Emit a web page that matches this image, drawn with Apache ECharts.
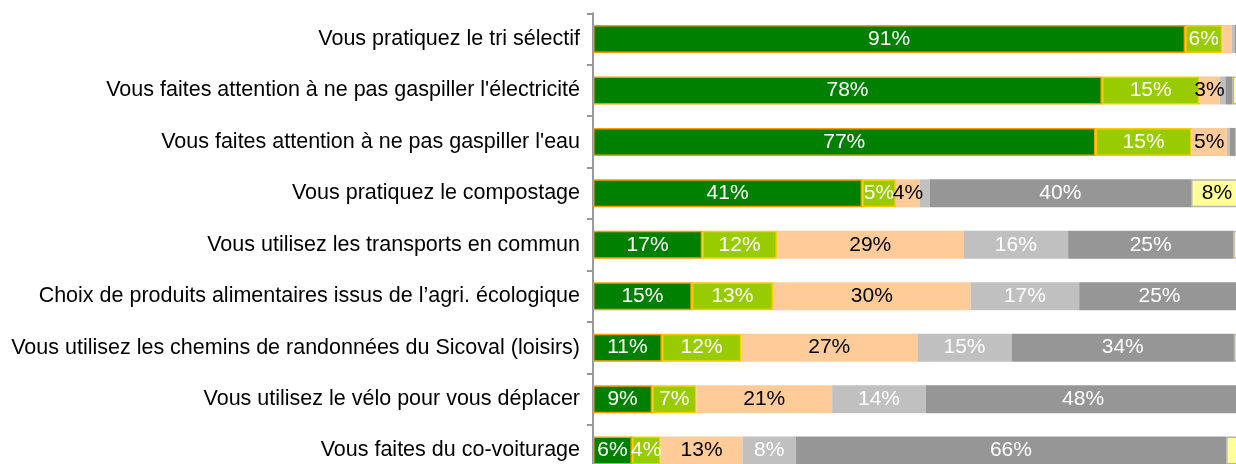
<!DOCTYPE html>
<html>
<head>
<meta charset="utf-8">
<script src="https://cdn.jsdelivr.net/npm/echarts@6/dist/echarts.min.js"></script>
<style>
  html, body { margin: 0; padding: 0; background: #fff; }
  #chart { width: 1236px; height: 464px; }
</style>
</head>
<body>
<div id="chart"></div>
<script>
// Catégories (de haut en bas)
var categories = [
    "Vous pratiquez le tri sélectif",
    "Vous faites attention à ne pas gaspiller l'électricité",
    "Vous faites attention à ne pas gaspiller l'eau",
    "Vous pratiquez le compostage",
    "Vous utilisez les transports en commun",
    "Choix de produits alimentaires issus de l’agri. écologique",
    "Vous utilisez les chemins de randonnées du Sicoval (loisirs)",
    "Vous utilisez le vélo pour vous déplacer",
    "Vous faites du co-voiturage"
];

// Valeurs en %
var systematiquement = [91.1, 78.3, 77.3, 41.4, 16.8, 15.2, 10.6, 9.1, 6.0];
var souvent          = [5.7, 15.0, 14.8, 5.2, 11.5, 12.5, 12.2, 6.8, 4.4];
var parfois          = [1.5, 3.1, 5.4, 3.7, 28.7, 30.4, 27.1, 20.9, 12.6];
var rarement         = [0.4, 0.9, 0.5, 1.5, 16.1, 16.7, 14.5, 14.4, 8.2];
var jamais           = [0.5, 1.1, 0.8, 40.2, 25.4, 24.7, 34.2, 48.4, 66.2];
var nonConcerne      = [0.8, 1.6, 1.2, 8.0, 1.5, 0.5, 1.4, 0.4, 2.6];

var font = "'Liberation Sans', Arial, sans-serif";

function pct(p) {
    return p.value >= 3 ? Math.round(p.value) + "%" : "";
}

function serie(name, data, color, textColor, border) {
    return {
        name: name,
        type: "bar",
        stack: "total",
        data: data,
        barWidth: 28,
        itemStyle: {
            color: color,
            borderColor: border || color,
            borderWidth: border ? 1.5 : 0
        },
        label: {
            show: true,
            position: "inside",
            formatter: pct,
            color: textColor,
            fontSize: 21,
            fontFamily: font
        },
        emphasis: { disabled: true }
    };
}

var myChart = echarts.init(document.getElementById("chart"));

myChart.setOption({
    animation: false,
    grid: {
        left: 593, width: 650, top: 13.3, height: 463,
        outerBoundsMode: "none", containLabel: false
    },
    xAxis: {
        type: "value",
        min: 0,
        max: 100,
        show: false
    },
    yAxis: {
        type: "category",
        inverse: true,
        data: categories,
        axisLine: { show: true, lineStyle: { color: "#999", width: 2 } },
        axisTick: { show: true, length: 6, lineStyle: { color: "#999", width: 2 } },
        axisLabel: { color: "#000", fontSize: 21.5, fontFamily: font, margin: 13 }
    },
    series: [
        serie("Systématiquement", systematiquement, "#008000", "#fff", "#FF9900"),
        serie("Souvent", souvent, "#99CC00", "#fff", "#FFCC00"),
        serie("Parfois", parfois, "#FFCC99", "#000"),
        serie("Rarement", rarement, "#C0C0C0", "#fff"),
        serie("Jamais", jamais, "#969696", "#fff"),
        serie("Non concerné", nonConcerne, "#FFFF99", "#000", "#B4B4B4")
    ]
});
</script>
</body>
</html>
